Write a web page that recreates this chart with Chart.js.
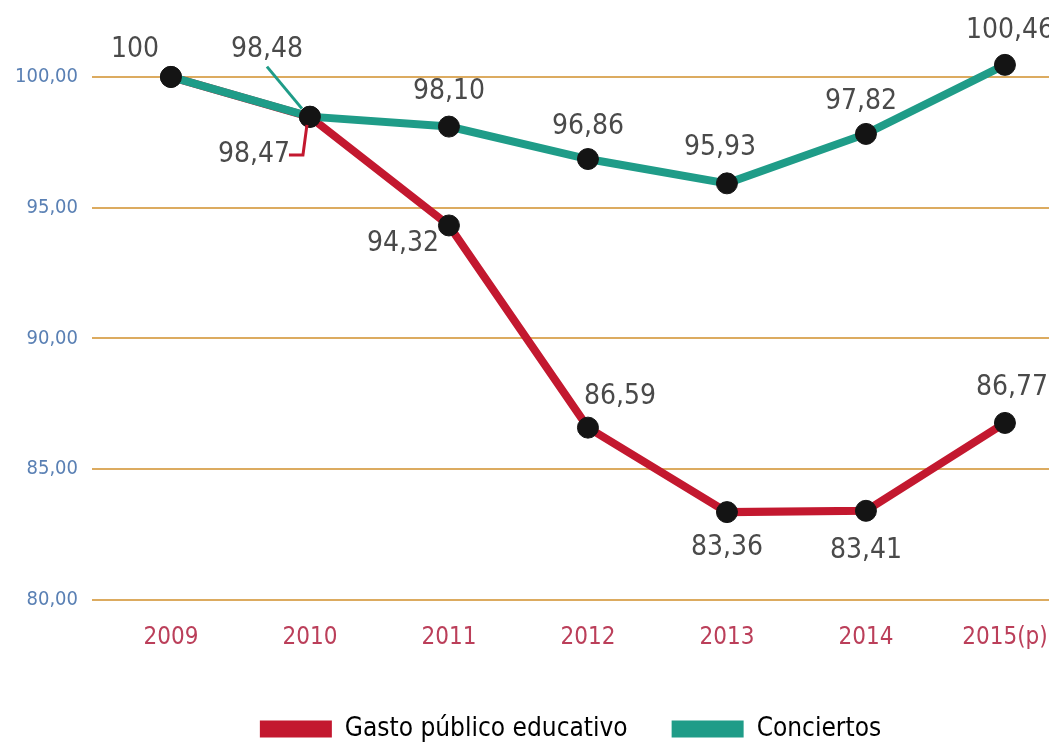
<!DOCTYPE html>
<html>
<head>
<meta charset="utf-8">
<script src="https://cdn.jsdelivr.net/npm/chart.js@4.4.1/dist/chart.umd.min.js"></script>
<style>
html,body{margin:0;padding:0;background:#fff;}
#wrap{width:1049px;height:743px;position:relative;}
</style>
</head>
<body>
<div id="wrap"><canvas id="c" width="1049" height="743"></canvas></div>
<script>
const categories = ['2009','2010','2011','2012','2013','2014','2015(p)'];
const gastoValues = [100, 98.47, 94.32, 86.59, 83.36, 83.41, 86.77];
const conciertosValues = [100, 98.48, 98.10, 96.86, 95.93, 97.82, 100.46];
const yTicks = [80, 85, 90, 95, 100];
const seriesNames = ['Gasto público educativo', 'Conciertos'];

// label placement offsets (style only)
const gastoLabelOffsets = [null, [-56,38], [-46,18], [32,-31], [0,36], [0,40], [7,-35]];
const conciertosLabelOffsets = [[-36,-27], [-43,-67], [0,-35], [0,-32], [-7,-36], [-5,-32], [5,-34]];

const RED = '#c3182f';
const TEAL = '#1f9c88';
const FONT = "'Liberation Sans Narrow','DejaVu Sans Condensed',sans-serif";

const fmt = v => v === 100 ? '100' : v.toFixed(2).replace('.', ',');

const labelPlugin = {
  id: 'valueLabels',
  afterDatasetsDraw(chart) {
    const ctx = chart.ctx;
    ctx.save();
    ctx.font = '28px ' + FONT;
    ctx.fillStyle = '#4a4a4a';
    ctx.textAlign = 'center';
    ctx.textBaseline = 'middle';
    const sets = [[0, gastoValues, gastoLabelOffsets], [1, conciertosValues, conciertosLabelOffsets]];
    const mG = chart.getDatasetMeta(0).data[1];
    const mC = chart.getDatasetMeta(1).data[1];
    ctx.lineWidth = 3;
    ctx.strokeStyle = RED;
    ctx.beginPath();
    ctx.moveTo(mG.x - 21, mG.y + 38);
    ctx.lineTo(mG.x - 7, mG.y + 38);
    ctx.lineTo(mG.x - 3, mG.y + 8);
    ctx.stroke();
    ctx.strokeStyle = TEAL;
    ctx.beginPath();
    ctx.moveTo(mC.x - 43, mC.y - 50);
    ctx.lineTo(mC.x - 8, mC.y - 8);
    ctx.stroke();
    sets.forEach(([di, vals, offs]) => {
      const meta = chart.getDatasetMeta(di);
      meta.data.forEach((pt, i) => {
        const o = offs[i];
        if (!o) return;
        ctx.fillText(fmt(vals[i]), pt.x + o[0], pt.y + o[1]);
      });
    });
    ctx.restore();
  }
};

new Chart(document.getElementById('c'), {
  type: 'line',
  data: {
    datasets: [
      {
        label: seriesNames[0],
        data: gastoValues.map((v, i) => ({x: i, y: v})),
        borderColor: RED,
        backgroundColor: RED,
        borderWidth: 8,
        pointRadius: 10.5,
        pointBackgroundColor: '#141414',
        pointBorderColor: '#141414',
        pointBorderWidth: 1,
        tension: 0,
        clip: false,
        order: 2
      },
      {
        label: seriesNames[1],
        data: conciertosValues.map((v, i) => ({x: i, y: v})),
        borderColor: TEAL,
        backgroundColor: TEAL,
        borderWidth: 8,
        pointRadius: 10.5,
        pointBackgroundColor: '#141414',
        pointBorderColor: '#141414',
        pointBorderWidth: 1,
        tension: 0,
        clip: false,
        order: 1
      }
    ]
  },
  options: {
    responsive: false,
    animation: false,
    layout: { padding: { top: 0, left: 0, right: 0, bottom: -9 }, autoPadding: false },
    plugins: {
      legend: {
        position: 'bottom',
        fullSize: false,
        labels: {
          boxWidth: 72,
          boxHeight: 17,
          color: '#333',
          font: { family: FONT, size: 26 },
          padding: 44,
          generateLabels(chart) {
            return chart.data.datasets.map((d, i) => ({
              text: d.label,
              fillStyle: d.borderColor,
              strokeStyle: d.borderColor,
              lineWidth: 0,
              datasetIndex: i
            }));
          }
        }
      },
      tooltip: { enabled: false }
    },
    scales: {
      x: {
        type: 'linear',
        min: -0.568,
        max: 6.317,
        afterBuildTicks(scale) {
          scale.ticks = categories.map((c, i) => ({ value: i }));
        },
        afterFit(scale) {
          scale.height = 72;
          scale.paddingLeft = 0; scale.paddingRight = 0;
          scale.paddingTop = 0; scale.paddingBottom = 0;
        },
        ticks: {
          color: '#bb3f5a',
          font: { family: FONT, size: 24 },
          padding: 15,
          maxRotation: 0,
          autoSkip: false,
          callback: v => categories[v] ?? ''
        },
        grid: { display: false },
        border: { display: false }
      },
      y: {
        min: 80,
        max: 102.94,
        afterBuildTicks(scale) {
          scale.ticks = yTicks.map(v => ({ value: v }));
        },
        afterFit(scale) {
          scale.width = 92;
          scale.paddingLeft = 0; scale.paddingRight = 0;
          scale.paddingTop = 0; scale.paddingBottom = 0;
        },
        ticks: {
          color: '#5a80b4',
          font: { family: FONT, size: 20 },
          padding: 14,
          callback: v => v.toFixed(2).replace('.', ',')
        },
        grid: { color: '#dcab60', lineWidth: 2, drawTicks: false },
        border: { display: false }
      }
    }
  },
  plugins: [labelPlugin]
});
</script>
</body>
</html>
